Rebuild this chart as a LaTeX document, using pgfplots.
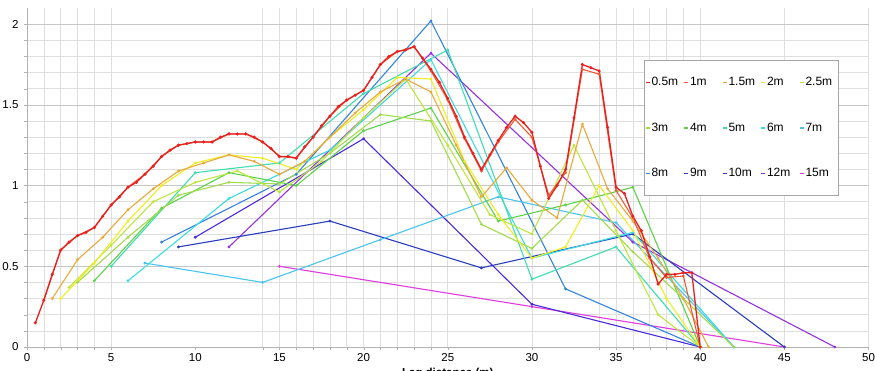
\documentclass[border=0pt]{standalone}
\usepackage{pgfplots}
\pgfplotsset{compat=1.18}
\usepackage{fontspec}
\setmainfont{Liberation Sans}
\definecolor{c05}{HTML}{E82020}
\definecolor{c1}{HTML}{F05A30}
\definecolor{c15}{HTML}{EBA83A}
\definecolor{c2}{HTML}{EEEE22}
\definecolor{c25}{HTML}{BEE63C}
\definecolor{c3}{HTML}{A2DC4A}
\definecolor{c4}{HTML}{5CD24A}
\definecolor{c5}{HTML}{3EDDB0}
\definecolor{c6}{HTML}{3ADCE0}
\definecolor{c7}{HTML}{48C4F0}
\definecolor{c8}{HTML}{3484DC}
\definecolor{c9}{HTML}{2A3CC0}
\definecolor{c10}{HTML}{4A2ADA}
\definecolor{c12}{HTML}{9430E0}
\definecolor{c15m}{HTML}{E03AE0}
\begin{document}
\begin{tikzpicture}
\begin{axis}[name=ax,
  width=841.5pt, height=339pt, scale only axis,
  xmin=0, xmax=50, ymin=0, ymax=2.1,
  axis lines=left, axis line style={gray!60,-},
  xtick={0,5,...,50}, ytick={0,0.5,1,1.5,2},
  minor xtick={1,2,3,4,5,14,15,16,17,18,19,20,21,22,23,24,25,30,34,35,36,37,38,39,40,45,50},
  minor ytick={0.1,0.2,0.3,0.4,0.6,0.7,0.8,0.9,1.1,1.2,1.3,1.4,1.6,1.7,1.8,1.9},
  xmajorgrids=false, xminorgrids=true, ymajorgrids=true, yminorgrids=true,
  major grid style={gray!45, line width=0.6pt},
  minor grid style={gray!25, line width=0.6pt},
  tick align=outside, major tick length=3pt, minor tick length=3pt,
  tick style={gray!60},
  tick label style={font=\fontsize{11.5}{13}\selectfont},
  yticklabel style={xshift=-2pt},
  /pgf/number format/assume math mode=true,
  xlabel={Lag distance (m)}, ylabel={Semi-variance},
  label style={font=\fontsize{11.5}{13}\selectfont\bfseries},
  every axis plot/.append style={mark=*, mark size=0.8pt, line width=1.1pt},
  reverse legend,
  legend columns=5,
  legend style={at={(0.733,0.847)}, anchor=north west, draw=gray!70, fill=white,
    font=\fontsize{12}{14}\selectfont, inner xsep=1pt, inner ysep=16pt,
    row sep=33pt,
    nodes={inner sep=0.5pt, text height=9pt, text depth=2.5pt},
    /tikz/every odd column/.append style={column sep=0.5pt}},
  legend cell align=left,
  legend image code/.code={\draw[#1, line width=1.5pt, mark=none] (0pt,0pt) -- (4pt,0pt);},
]
% 15m
\addplot[c15m] coordinates {(15,0.50) (30,0.25) (45,0)};
\addlegendentry{\makebox[31.5pt][l]{15m}}
% 12m
\addplot[c12] coordinates {(12,0.62) (24,1.82) (36,0.65) (48,0)};
\addlegendentry{\makebox[31.5pt][l]{12m}}
% 10m
\addplot[c10] coordinates {(10,0.68) (20,1.29) (30,0.265) (40,0)};
\addlegendentry{\makebox[31.5pt][l]{10m}}
% 9m
\addplot[c9] coordinates {(9,0.62) (18,0.78) (27,0.49) (36,0.70) (45,0)};
\addlegendentry{\makebox[31.5pt][l]{9m}}
% 8m
\addplot[c8] coordinates {(8,0.65) (16,1.07) (24,2.02) (32,0.36) (40,0)};
\addlegendentry{\makebox[31.5pt][l]{8m}}
% 7m
\addplot[c7] coordinates {(7,0.52) (14,0.40) (21,0.665) (28,0.93) (35,0.77) (42,0)};
\addlegendentry{\makebox[31.5pt][l]{7m}}
% 6m
\addplot[c6] coordinates {(6,0.41) (12,0.92) (18,1.22) (24,1.78) (30,0.55) (36,0.71) (42,0)};
\addlegendentry{\makebox[31.5pt][l]{6m}}
% 5m
\addplot[c5] coordinates {(5,0.50) (10,1.08) (15,1.14) (20,1.57) (25,1.84) (30,0.42) (35,0.62) (40,0)};
\addlegendentry{\makebox[31.5pt][l]{5m}}
% 4m
\addplot[c4] coordinates {(4,0.41) (8,0.86) (12,1.08) (16,1.00) (20,1.34) (24,1.48) (28,0.78) (32,0.88) (36,0.99) (40,0)};
\addlegendentry{\makebox[31.5pt][l]{4m}}
% 3m
\addplot[c3] coordinates {(3,0.40) (6,0.68) (9,0.94) (12,1.02) (15,1.01) (18,1.20) (21,1.44) (24,1.40) (27,0.76) (30,0.61) (33,0.91) (36,0.59) (39,0.30) (42,0)};
\addlegendentry{\makebox[31.5pt][l]{3m}}
% 2.5m
\addplot[c25] coordinates {(2.5,0.37) (5,0.63) (7.5,0.90) (10,1.02) (12.5,1.09) (15,0.96) (17.5,1.15) (20,1.42) (22.5,1.66) (25,1.25) (27.5,0.82) (30,0.70) (32.5,1.25) (35,0.72) (37.5,0.20) (40,0)};
\addlegendentry{\makebox[31.5pt][l]{2.5m}}
% 2m
\addplot[c2] coordinates {(2,0.30) (4,0.52) (6,0.78) (8,1.00) (10,1.14) (12,1.19) (14,1.17) (16,1.10) (18,1.30) (20,1.47) (22,1.67) (24,1.66) (26,1.15) (28,0.82) (30,0.55) (32,0.62) (34,1.00) (36,0.72) (38,0.30) (40,0)};
\addlegendentry{\makebox[31.5pt][l]{2m}}
% 1.5m
\addplot[c15] coordinates {(1.5,0.30) (3,0.54) (4.5,0.68) (6,0.85) (7.5,0.98) (9,1.09) (10.5,1.14) (12,1.19) (13.5,1.15) (15,1.07) (16.5,1.15) (18,1.30) (19.5,1.45) (21,1.58) (22.5,1.66) (24,1.58) (25.5,1.25) (27,0.93) (28.5,1.11) (30,0.91) (31.5,0.80) (33,1.38) (34.5,0.98) (36,0.78) (37.5,0.55) (39,0.30) (40.5,0)};
\addlegendentry{\makebox[31.5pt][l]{1.5m}}
% 1m
\addplot[c1] coordinates {(1,0.29) (2,0.60) (3,0.69) (4,0.74) (5,0.88) (6,0.99) (7,1.07) (8,1.18) (9,1.25) (10,1.27) (11,1.27) (12,1.32) (13,1.32) (14,1.27) (15,1.18) (16,1.17) (17,1.30) (18,1.43) (19,1.53) (20,1.59) (21,1.75) (22,1.83) (23,1.86) (24,1.71) (25,1.53) (26,1.29) (27,1.09) (28,1.27) (29,1.41) (30,1.30) (31,0.94) (32,1.08) (33,1.72) (34,1.69) (35,0.97) (36,0.80) (37,0.55) (38,0.43) (39,0.44) (40,0)};
\addlegendentry{\makebox[31.5pt][l]{1m}}
% 0.5m
\addplot[c05, line width=1.3pt] coordinates {(0.5,0.15) (1,0.29) (1.5,0.45) (2,0.60) (2.5,0.65) (3,0.69) (3.5,0.71) (4,0.74) (4.5,0.81) (5,0.88) (5.5,0.93) (6,0.99) (6.5,1.02) (7,1.07) (7.5,1.12) (8,1.18) (8.5,1.22) (9,1.25) (9.5,1.26) (10,1.27) (10.5,1.27) (11,1.27) (11.5,1.30) (12,1.32) (12.5,1.32) (13,1.32) (13.5,1.30) (14,1.27) (14.5,1.23) (15,1.18) (15.5,1.18) (16,1.17) (16.5,1.24) (17,1.30) (17.5,1.37) (18,1.43) (18.5,1.49) (19,1.53) (19.5,1.56) (20,1.59) (20.5,1.67) (21,1.75) (21.5,1.80) (22,1.83) (22.5,1.84) (23,1.86) (23.5,1.79) (24,1.72) (24.5,1.64) (25,1.54) (25.5,1.43) (26,1.30) (26.5,1.20) (27,1.10) (27.5,1.19) (28,1.28) (28.5,1.36) (29,1.43) (29.5,1.39) (30,1.33) (30.5,1.12) (31,0.92) (31.5,1.00) (32,1.10) (32.5,1.42) (33,1.75) (33.5,1.73) (34,1.71) (34.5,1.36) (35,0.99) (35.5,0.95) (36,0.81) (36.5,0.72) (37,0.56) (37.5,0.39) (38,0.45) (38.5,0.45) (39,0.46) (39.5,0.46) (40,0)};
\addlegendentry{\makebox[31.5pt][l]{0.5m}}
\end{axis}
\pgfresetboundingbox
\path ([xshift=-27pt,yshift=-24pt]ax.south west) rectangle ([xshift=6.5pt,yshift=8pt]ax.north east);
\end{tikzpicture}
\end{document}
